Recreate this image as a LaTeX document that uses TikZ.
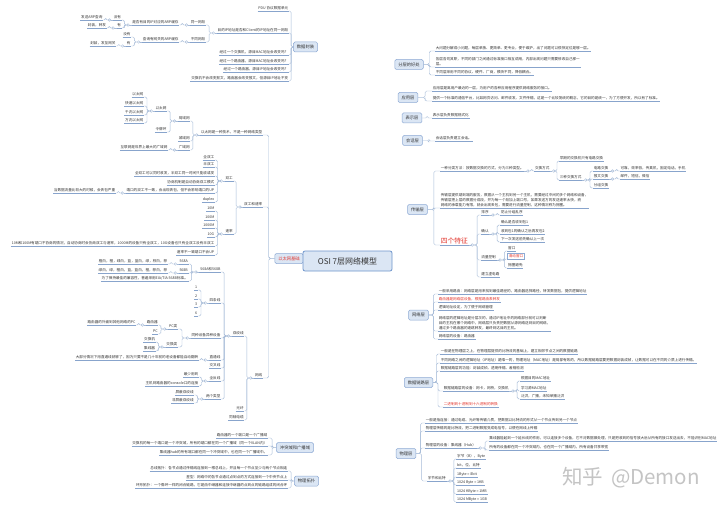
\documentclass[tikz,border=0pt]{standalone}
\usepackage{fontspec}
\setmainfont{Noto Sans CJK SC}
\usetikzlibrary{calc}
\pgfdeclarelayer{bg}
\pgfsetlayers{bg,main}
\definecolor{txt}{HTML}{333333}
\definecolor{lnc}{HTML}{A6BBD8}
\definecolor{ulc}{HTML}{88A4CC}
\definecolor{boxf}{HTML}{DBE6F4}
\definecolor{boxb}{HTML}{8EAAD4}
\definecolor{ctrb}{HTML}{6F95CC}
\definecolor{redc}{HTML}{E3342B}
\definecolor{wmc}{HTML}{C4C4C4}
\tikzset{
 leaf/.style={font=\fontsize{3.6}{5.2}\selectfont,inner xsep=0.6pt,inner ysep=0.9pt,text=txt,align=left},
 ul/.style={draw=ulc,line width=0.45pt},
 conn/.style={draw=lnc,line width=0.45pt,rounded corners=1.5pt},
 mconn/.style={draw=lnc,line width=0.8pt},
 topic/.style={draw=boxb,fill=boxf,rounded corners=1.5pt,line width=0.5pt,font=\fontsize{4.3}{5}\selectfont,text=txt,inner xsep=3.5pt,inner ysep=0pt,minimum height=10pt},
 central/.style={draw=ctrb,fill=boxf,rounded corners=2pt,line width=0.8pt,font=\fontsize{8}{9}\selectfont,text=txt,minimum width=89pt,minimum height=20pt},
 big/.style={font=\fontsize{6.8}{7.5}\selectfont,text=redc},
 rtx/.style={text=redc},
 hl/.style={draw=boxb,fill=white,text=redc,inner xsep=1.2pt},
}
% right-side child at absolute x
\newcommand\kidRx[6][]{%
 \node[leaf,#1,anchor=south west] (#2) at (#4,#5) {#6};
 \draw[ul] (#2.south west) -- (#2.south east);
 \draw[conn] (#3) -| ($(#3)!0.5!(#2.south west)$) |- (#2.south west);}
% right-side child relative to parent start
\newcommand\kidR[6][]{%
 \path ($(#3)+(#4,0)$) coordinate (#2at);
 \node[leaf,#1,anchor=south west] (#2) at (#2at |- 0,#5) {#6};
 \draw[ul] (#2.south west) -- (#2.south east);
 \draw[conn] (#3) -| ($(#3)!0.5!(#2.south west)$) |- (#2.south west);}
\newcommand\kidLx[6][]{%
 \node[leaf,#1,anchor=south east] (#2) at (#4,#5) {#6};
 \draw[ul] (#2.south west) -- (#2.south east);
 \draw[conn] (#3) -| ($(#3)!0.5!(#2.south east)$) |- (#2.south east);}
\newcommand\kidL[6][]{%
 \path ($(#3)+(-#4,0)$) coordinate (#2at);
 \node[leaf,#1,anchor=south east] (#2) at (#2at |- 0,#5) {#6};
 \draw[ul] (#2.south west) -- (#2.south east);
 \draw[conn] (#3) -| ($(#3)!0.5!(#2.south east)$) |- (#2.south east);}
\newcommand\foldR[1]{%
 \draw[conn] (#1.south east) -- ++(2.2,0);
 \draw[conn,fill=white] ($(#1.south east)+(3.5,0)$) circle (1.3pt);
 \coordinate (#1f) at ($(#1.south east)+(4.8,0)$);}
\newcommand\foldL[1]{%
 \draw[conn] (#1.south west) -- ++(-2.2,0);
 \draw[conn,fill=white] ($(#1.south west)+(-3.5,0)$) circle (1.3pt);
 \coordinate (#1f) at ($(#1.south west)+(-4.8,0)$);}
\begin{document}
\begin{tikzpicture}[x=1pt,y=-1pt]
\fill[white] (0,0) rectangle (720,508);
\useasboundingbox (0,0) rectangle (720,508);
% topics
\node[topic] (b1) at (409,64.5) {分层的好处};
\node[topic] (b2) at (408,97.5) {应用层};
\node[topic] (b3) at (412,118) {表示层};
\node[topic] (b4) at (412.5,140.5) {会话层};
\node[topic] (b5) at (417.5,209.5) {传输层};
\node[topic] (b6) at (418.5,315) {网络层};
\node[topic] (b7) at (418.5,382.5) {数据链路层};
\node[topic] (b8) at (406,453.5) {物理层};
\node[topic] (a1) at (305.5,47) {数据封装};
\node[topic,text=redc] (a2) at (289,258.5) {以太网基础};
\node[topic] (a3) at (295,447.5) {冲突域和广播域};
\node[topic] (a4) at (306.5,481) {物理拓扑};
\node[central] (ctr) at (347.5,261) {OSI 7层网络模型};
\begin{pgfonlayer}{bg}
\foreach \b in {b1,b2,b3,b4,b5,b6,b7,b8}
  \draw[mconn] ($(ctr.center)+(15,0)$) .. controls +(8,0) and ($(\b.west)+(-22,0)$) .. (\b.west);
\foreach \a in {a1,a2,a3,a4}
  \draw[mconn] ($(ctr.center)+(-15,0)$) .. controls +(-8,0) and ($(\a.east)+(12,0)$) .. (\a.east);
\end{pgfonlayer}
% ---------------- RIGHT
\kidRx{r1a}{b1.east}{435}{51}{大问题分解成小问题，每层单独、更简单、更专业，便于维护，出了问题可以很快定位是哪一层。}
\kidRx{r1b}{b1.east}{435}{67}{各层各司其职，不同的部门之间通过标准接口相互调用，内部出现问题只需要修改自己那一\\层。}
\kidRx{r1c}{b1.east}{435}{75}{不同层采用不同的协议、硬件、厂商，模块不同，降低耦合。}
\kidRx{r2a}{b2.east}{432}{91}{应用层是离用户最近的一层，为用户的各种应用程序提供网络服务的接口。}
\kidRx{r2b}{b2.east}{432}{101}{提供一个标准的通信平台，比如网页访问、邮件收发、文件传输，这是一个比较笼统的概念，它的目的是统一，为了方便开发，所以有了标准。}
\kidRx{r3a}{b3.east}{432}{118}{表示层负责数据格式化}
\kidRx{r4a}{b4.east}{435}{141}{会话层负责建立会话。}
% transport
\kidRx{t1}{b5.east}{440}{171}{一种分类方法：按数据交换的方式，分为三种类型。}
\foldR{t1}
\kidR{tj}{t1f}{5}{171}{交换方式}
\foldR{tj}
\kidR{ta}{tjf}{4}{161}{早期的交换机只有电路交换}
\kidR{tb}{tjf}{4}{180}{三种交换方式}
\foldR{tb}
\kidR{tc1}{tbf}{6}{171}{电路交换}
\kidR{tc2}{tbf}{6}{179}{报文交换}
\kidR{tc3}{tbf}{6}{188}{分组交换}
\foldR{tc1}\kidR{tc1a}{tc1f}{6}{171}{可靠，效率低，传真机，固定电话，手机}
\foldR{tc2}\kidR{tc2a}{tc2f}{6}{179}{邮件，短信，微信}
\kidRx{t2}{b5.east}{440}{208}{传输层提供端到端的服务，数据从一个主机到另一个主机，需要经过中间的多个网络和设备，\\传输层把上层的数据分成段，并为每一个段加上端口号，如果发送方的发送速率太快，而\\网络的承载能力有限，就会出现丢包，需要进行流量控制，这种情况称为拥塞。}
\kidRx[big]{tz}{b5.east}{440}{245}{四个特征}
\foldR{tz}
\kidR{z1}{tzf}{7}{215}{排序}
\kidR{z2}{tzf}{7}{234}{确认}
\kidR{z3}{tzf}{7}{260}{流量控制}
\kidR{z4}{tzf}{7}{277}{建立虚电路}
\foldR{z1}\kidR{z1a}{z1f}{6}{215}{防止分组乱序}
\foldR{z2}
\kidR{z2a}{z2f}{6}{225}{确认是否收到包1}
\kidR{z2b}{z2f}{6}{234}{收到包1的确认之后再发包2}
\kidR{z2c}{z2f}{6}{242}{下一次发送前先确认上一次}
\foldR{z3}
\kidR{z3a}{z3f}{6}{251}{窗口}
\kidR[hl]{z3b}{z3f}{6}{259}{滑动窗口}
\kidR{z3c}{z3f}{6}{268}{拥塞避免}
% network
\kidRx{n1}{b6.east}{438}{294}{一般采用路由：网络层是用来找到最佳路径的，路由器选择路径，转发数据包，提供逻辑地址}
\kidRx[rtx]{n2}{b6.east}{438}{302}{路由器是网络层设备，根据路由表转发}
\kidRx{n3}{b6.east}{438}{310}{逻辑地址设定，为了便于网络管理}
\kidRx{n4}{b6.east}{438}{331}{网络层的逻辑地址是分层次的，通过IP地址中的网络部分就可以判断\\目的主机在哪个网络中，网络层只负责把数据从源网络送到目的网络，\\通过多个路由器的逐跳转发，最终到达目的主机。}
\kidRx{n5}{b6.east}{438}{339}{网络层的设备：路由器}
% data link
\kidRx{d1}{b7.east}{440}{354}{一般是在物理层之上，在物理层提供的比特流的基础上，建立相邻节点之间的数据链路}
\kidRx{d2}{b7.east}{440}{363}{不同网络之间的逻辑地址（IP地址）是唯一的，物理地址（MAC地址）是局部有效的，所以数据链路层要把数据封装成帧，让数据可以在不同的介质上进行传输。}
\kidRx{d3}{b7.east}{440}{371}{数据链路层的功能：封装成帧、透明传输、差错检测}
\kidRx{d4}{b7.east}{443}{391}{数据链路层的设备：网卡，网桥，交换机}
\foldR{d4}
\kidR{d4a}{d4f}{6}{381}{根据目的MAC地址}
\kidR{d4b}{d4f}{6}{391}{学习源MAC地址}
\kidR{d4c}{d4f}{6}{399}{泛洪，广播，未知单播泛洪}
\kidRx[rtx]{d5}{b7.east}{443}{407}{二进制到十进制到十六进制的转换}
% physical
\kidRx{p1}{b8.east}{425}{423}{一般是指连接：通过电缆、光纤等传输介质，把数据以比特流的形式从一个节点传到另一个节点}
\kidRx{p2}{b8.east}{425}{431}{物理层传输的是比特流，把二进制数据变成电信号，以便在网线上传输}
\kidRx{p3}{b8.east}{425}{448}{物理层的设备：集线器（Hub）}
\foldR{p3}
\kidR{p3a}{p3f}{7}{441}{集线器能起到一个延长线的作用，可以连接多个设备，它不对数据做处理，只是把收到的信号放大后从所有的接口发送出去，不能识别MAC地址}
\kidR{p3b}{p3f}{7}{450}{所有的设备都在同一个冲突域内，也在同一个广播域内，所有设备共享带宽}
\kidRx{p4}{b8.east}{427}{481}{字节和比特}
\foldR{p4}
\kidR{q1}{p4f}{5}{459}{字节（B），Byte}
\kidR{q2}{p4f}{5}{468}{bit，位，比特}
\kidR{q3}{p4f}{5}{477}{1Byte = 8bit}
\kidR{q4}{p4f}{5}{485}{1024 Byte = 1KB}
\kidR{q5}{p4f}{5}{494}{1024 KByte = 1MB}
\kidR{q6}{p4f}{5}{502}{1024 MByte = 1GB}
% ---------------- LEFT
\kidLx{e1}{a1.west}{289}{11}{PDU 协议数据单元}
\kidLx{e2}{a1.west}{289}{33}{目的IP地址是否和Client的IP地址在同一网段}
\kidLx{e3}{a1.west}{289}{55}{经过一个交换机，源目MAC地址会改变吗？}
\kidLx{e4}{a1.west}{289}{64}{经过一个路由器，源目MAC地址会改变吗？}
\kidLx{e5}{a1.west}{289}{72}{经过一个路由器，源目IP地址会改变吗？}
\kidLx{e6}{a1.west}{289}{81}{交换机不会改变报文，路由器会改变报文，但源目IP地址不变}
\foldL{e2}
\kidL{e21}{e2f}{6}{25}{同一网段}
\kidL{e22}{e2f}{6}{42}{不同网段}
\foldL{e21}
\kidL{e211}{e21f}{6}{25}{是否有目的IP对应的ARP缓存}
\foldL{e211}
\kidL{e2111}{e211f}{5}{20}{没有}
\kidL{e2112}{e211f}{5}{28}{有}
\foldL{e2111}\kidL{e21111}{e2111f}{5}{20}{发送ARP查询}
\foldL{e2112}\kidL{e21121}{e2112f}{5}{28}{封装，转发}
\foldL{e22}
\kidL{e221}{e22f}{6}{42}{查询有网关的ARP缓存}
\foldL{e221}
\kidL{e2211}{e221f}{6}{37}{没有}
\kidL{e2212}{e221f}{6}{46}{有}
\foldL{e2212}\kidL{e22121}{e2212f}{5}{46}{封装，发至网关}
% ethernet basics
\kidLx{g1}{a2.west}{263}{135}{以太网是一种技术，不是一种网络类型}
\kidLx{g2}{a2.west}{263}{207}{双工和速率}
\kidLx{g3}{a2.west}{263}{378}{网线}
\foldL{g1}
\kidL{g11}{g1f}{5}{121}{局域网}
\kidL{g12}{g1f}{5}{141}{城域网}
\kidL{g13}{g1f}{5}{150}{广域网}
\foldL{g11}
\kidL{g111}{g11f}{6}{111}{以太网}
\kidL{g112}{g11f}{6}{132}{令牌环}
\foldL{g111}
\kidL{g1111}{g111f}{6}{97}{以太网}
\kidL{g1112}{g111f}{6}{106}{快速以太网}
\kidL{g1113}{g111f}{6}{115}{千兆以太网}
\kidL{g1114}{g111f}{6}{123}{万兆以太网}
\foldL{g13}
\kidL{g131}{g13f}{5}{150}{互联网是世界上最大的广域网}
\foldL{g2}
\kidL{g21}{g2f}{5}{181}{双工}
\kidL{g22}{g2f}{5}{234}{速率}
\foldL{g21}
\kidL{g211}{g21f}{5}{160}{全双工}
\kidL{g212}{g21f}{5}{167}{半双工}
\kidL{g213}{g21f}{5}{176}{全双工可以同时收发，半双工同一时间只能收或发}
\kidL{g214}{g21f}{5}{185}{协商机制是自动协商双工模式}
\kidL{g215}{g21f}{5}{193}{端口的双工不一致，会出现丢包，但不会影响端口的UP}
\kidL{g216}{g21f}{5}{202}{duplex}
\foldL{g215}
\kidL{g2151}{g215f}{5}{193}{当数据流量比较大的时候，会丢包严重}
\foldL{g22}
\kidL{g221}{g22f}{5}{211}{10M}
\kidL{g222}{g22f}{5}{220}{100M}
\kidL{g223}{g22f}{5}{228}{1000M}
\kidL{g224}{g22f}{5}{237}{10G}
\kidL{g225}{g22f}{5}{246}{10M和100M有端口不协商的情况，自动协商时会协商双工与速率，1000M的设备只有全双工，10G设备也只有全双工没有半双工}
\kidL{g226}{g22f}{5}{255}{速率不一致端口不会UP}
\foldL{g3}
\kidL{w1}{g3f}{5}{336}{双绞线}
\kidL{w2}{g3f}{5}{411}{光纤}
\kidL{w3}{g3f}{5}{420}{同轴电缆}
\foldL{w1}
\kidL{w11}{w1f}{6}{272}{568A和568B}
\kidL{w12}{w1f}{6}{303}{四条线}
\kidL{w13}{w1f}{6}{338}{同种设备异种设备}
\kidL{w14}{w1f}{6}{360}{直通线}
\kidL{w15}{w1f}{6}{368}{交叉线}
\kidL{w16}{w1f}{6}{381}{全反线}
\kidL{w17}{w1f}{6}{399}{两个类型}
\foldL{w11}
\kidL{w111}{w11f}{6}{264}{568A}
\kidL{w112}{w11f}{6}{273}{568B}
\kidL{w113}{w11f}{6}{281}{为了保持最佳的兼容性，普遍采用EIA/TIA 568B标准。}
\foldL{w111}\kidL{w1111}{w111f}{6}{264}{橙白，橙，绿白，蓝，蓝白，绿，棕白，棕}
\foldL{w112}\kidL{w1121}{w112f}{6}{273}{绿白，绿，橙白，蓝，蓝白，橙，棕白，棕}
\foldL{w12}
\kidL{w121}{w12f}{6}{290}{1}
\kidL{w122}{w12f}{6}{299}{2}
\kidL{w123}{w12f}{6}{307}{3}
\kidL{w124}{w12f}{6}{316}{6}
\foldL{w13}
\kidL{w131}{w13f}{8}{329}{PC类}
\kidL{w132}{w13f}{8}{347}{交换类}
\foldL{w131}
\kidL{w1311}{w131f}{5}{325}{路由器}
\kidL{w1312}{w131f}{5}{334}{PC}
\foldL{w1311}\kidL{w13111}{w1311f}{5}{325}{路由器的外面到其他网络的PC}
\foldL{w132}
\kidL{w1321}{w132f}{5}{342}{交换机}
\kidL{w1322}{w132f}{5}{351}{集线器}
\foldL{w14}\kidL{w141}{w14f}{5}{360}{大部分情况下用直通线就够了，因为只要不是几十年前的老设备都能自动翻转}
\foldL{w16}
\kidL{w161}{w16f}{5}{377}{最少用到}
\kidL{w162}{w16f}{5}{386}{主机到路由器的console口的连接}
\foldL{w17}
\kidL{w171}{w17f}{6}{395}{屏蔽双绞线}
\kidL{w172}{w17f}{6}{403}{非屏蔽双绞线}
% collision / broadcast
\kidLx{h1}{a3.west}{268}{438}{路由器的一个端口是一个广播域}
\kidLx{h2}{a3.west}{268}{446}{交换机的每一个端口是一个冲突域，所有的端口都在同一个广播域（同一个VLAN内）}
\kidLx{h3}{a3.west}{268}{455}{集线器hub的所有端口都在同一个冲突域中，也在同一个广播域中。}
% topology
\kidLx{k1}{a4.west}{288}{471}{总线拓扑：各节点通过传输线连接到一根总线上，并且每一个节点至少与两个节点相连}
\kidLx{k2}{a4.west}{288}{480}{星型：网络中的各节点通过点到点的方式连接到一个中央节点上}
\kidLx{k3}{a4.west}{288}{488}{环形拓扑：一个像环一样的闭合链路，它是由中继器和连接中继器的点到点的链路组成的闭合环}
% watermark
\node[font=\fontsize{20.5}{22}\selectfont,text=wmc] (wm) at (631,478) {知乎\hspace{8pt}@Demon};
\end{tikzpicture}
\end{document}
